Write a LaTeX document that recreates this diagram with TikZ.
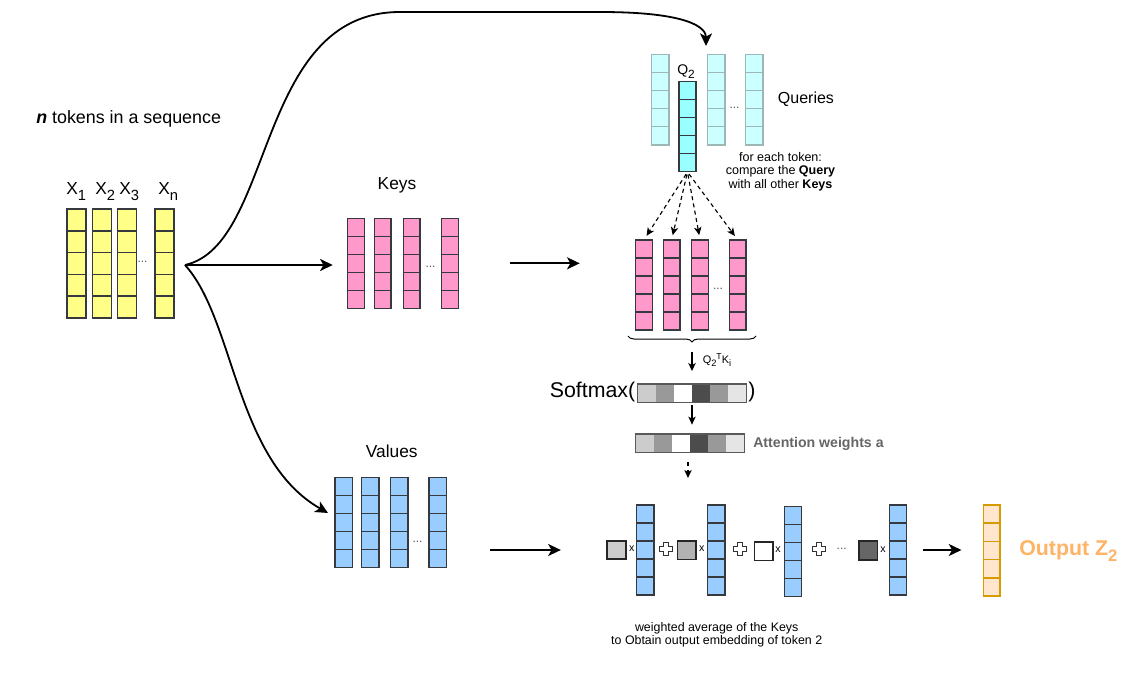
\documentclass[tikz,border=0pt]{standalone}
\usepackage{fontspec}
\setmainfont{Liberation Sans}
\usetikzlibrary{arrows.meta,decorations.pathreplacing,fit,calc}
\definecolor{cellstroke}{HTML}{36393D}
\definecolor{yel}{HTML}{FFFF88}
\definecolor{kpink}{HTML}{FF99CC}
\definecolor{vblue}{HTML}{99CCFF}
\definecolor{qlight}{HTML}{CCFFFF}
\definecolor{qlstroke}{HTML}{9DB6B6}
\definecolor{qdark}{HTML}{99FFFF}
\definecolor{outfill}{HTML}{FFE6CC}
\definecolor{outstroke}{HTML}{D79B00}
\definecolor{outtext}{HTML}{FFB366}
\definecolor{attn}{HTML}{666666}
\definecolor{dotc}{HTML}{555555}
\newcommand\dsub[1]{\raisebox{-0.32em}{\scalebox{0.85}{#1}}}
\newcommand\dsup[1]{\raisebox{0.38em}{\scalebox{0.8}{#1}}}
\newcommand\vcol[6]{%
  \path[#6, draw=none] (#2,#3) rectangle ++(#4,{5*#5});%
  \foreach \k in {0,...,4}{\path[#6, fill=none] (#2,{#3+\k*#5}) rectangle ++(#4,#5);}%
  \node[fit={(#2,#3) ({#2+#4},{#3+5*#5})}, inner sep=0pt] (#1) {};%
}
\newcommand\gbar[5]{%
  \foreach \c [count=\i from 0] in {black!20,black!40,white,black!70,black!40,black!10}{\fill[fill=\c] ({#2+\i*#4},#3) rectangle ++(#4,#5);}%
  \draw[draw=black!65, line width=0.9pt] (#2,#3) rectangle ++({6*#4},#5);%
  \node[fit={(#2,#3) ({#2+6*#4},{#3+#5})}, inner sep=0pt] (#1) {};%
}
\newcommand\plusmark[2]{%
  \draw[shift={(#1,#2)}, line width=0.75pt, draw=black!80, fill=white] (-6.5,-2.2) -- (-2.2,-2.2) -- (-2.2,-6.5) -- (2.2,-6.5) -- (2.2,-2.2) -- (6.5,-2.2) -- (6.5,2.2) -- (2.2,2.2) -- (2.2,6.5) -- (-2.2,6.5) -- (-2.2,2.2) -- (-6.5,2.2) -- cycle;%
}
\tikzset{
  ycell/.style={draw=cellstroke, fill=yel, line width=1.1pt},
  kcell/.style={draw=cellstroke, fill=kpink, line width=1.1pt},
  vcell/.style={draw=cellstroke, fill=vblue, line width=1.1pt},
  qlcell/.style={draw=qlstroke, fill=qlight, line width=1.1pt},
  qdcell/.style={draw=cellstroke, fill=qdark, line width=1.1pt},
  ocell/.style={draw=outstroke, fill=outfill, line width=1.1pt},
  wsq/.style={draw=black!85, line width=1.2pt, minimum size=13.9pt, inner sep=0pt},
  lbl/.style={inner sep=0pt, font=\fontsize{13}{15}\selectfont},
  dots/.style={inner sep=0pt, text=dotc, font=\fontsize{9}{10}\selectfont},
  times/.style={inner sep=0pt, font=\fontsize{8}{9}\selectfont},
  conn/.style={line width=1.35pt, -{Stealth[length=9.5pt,width=9pt,inset=2.5pt]}},
  smallarr/.style={line width=1pt, -{Stealth[length=6pt,width=5.5pt,inset=1.5pt]}},
  dasharr/.style={line width=0.85pt, dash pattern=on 3pt off 2.5pt, -{Stealth[length=6pt,width=5.5pt,inset=1.5pt]}},
}
\begin{document}
\begin{tikzpicture}[x=0.75pt,y=-0.75pt]
\useasboundingbox (0,0) rectangle (1134,681);
\fill[white] (0,0) rectangle (1134,681);

% ---- tokens
\node[inner sep=0pt, anchor=base west, font=\fontsize{13.4}{15}\selectfont] (title) at (36,124) {\textbf{\textit{n}} tokens in a sequence};
\vcol{x1}{67}{209}{19}{21.8}{ycell}
\vcol{x2}{92.3}{209}{19}{21.8}{ycell}
\vcol{x3}{117.3}{209}{19}{21.8}{ycell}
\vcol{xn}{155}{209}{19}{21.8}{ycell}
\node[lbl, anchor=base west] (lx1) at (66,195) {X\dsub{1}};
\node[lbl, anchor=base west] (lx2) at (95,195) {X\dsub{2}};
\node[lbl, anchor=base west] (lx3) at (119,195) {X\dsub{3}};
\node[lbl, anchor=base west] (lxn) at (158,195) {X\dsub{n}};
\node[dots] (xdots) at (142.5,262) {...};

% ---- keys
\node[lbl, anchor=base] (keyslbl) at (397,189) {Keys};
\vcol{k1}{347.7}{218.3}{16.7}{18}{kcell}
\vcol{k2}{374.3}{218.3}{16.7}{18}{kcell}
\vcol{k3}{403.3}{218.3}{16.7}{18}{kcell}
\vcol{k4}{441.7}{218.3}{16.7}{18}{kcell}
\node[dots] (kdots) at (430.5,267) {...};

% ---- values
\node[lbl, anchor=base] (valslbl) at (391.7,457) {Values};
\vcol{v1}{335}{477.7}{17.3}{18}{vcell}
\vcol{v2}{361.7}{477.7}{17.3}{18}{vcell}
\vcol{v3}{390.7}{477.7}{17.3}{18}{vcell}
\vcol{v4}{429}{477.7}{17.3}{18}{vcell}
\node[dots] (vdots) at (417.5,541.7) {...};

% ---- queries
\vcol{qa}{651.7}{54.3}{17.3}{18.1}{qlcell}
\vcol{qc}{707.7}{54.3}{17.3}{18.1}{qlcell}
\vcol{qd}{745.7}{54.3}{17.3}{18.1}{qlcell}
\vcol{q2}{679}{81.7}{17}{18}{qdcell}
\node[inner sep=0pt, anchor=base west, font=\fontsize{10.5}{12}\selectfont] (q2lbl) at (677,74.3) {Q\dsub{2}};
\node[dots] (qdots) at (734.5,108) {...};
\node[inner sep=0pt, anchor=base west, font=\fontsize{12}{14}\selectfont] (qlbl) at (777.7,104) {Queries};
\node[inner sep=0pt, align=center, font=\fontsize{9.4}{10.1}\selectfont] (cmp) at (780.5,171.5) {for each token:\\compare the \textbf{Query}\\with all other \textbf{Keys}};

% ---- keys (compared)
\vcol{k2a}{635.7}{240}{16.7}{18}{kcell}
\vcol{k2b}{663.3}{240}{16.7}{18}{kcell}
\vcol{k2c}{691.7}{240}{16.7}{18}{kcell}
\vcol{k2d}{729.3}{240}{16.7}{18}{kcell}
\node[dots] (k2dots) at (718,289) {...};
\foreach \t in {k2a,k2b,k2c,k2d}
  \draw[dasharr, shorten <=2pt, shorten >=3.5pt] (q2.south) -- (\t.north);

\coordinate (br1) at (628,336);
\coordinate (br2) at (756,336);
\draw[line width=0.75pt, decorate, decoration={brace, mirror, amplitude=4.5pt}] (br1) -- (br2);
\coordinate (brtip) at (692,342.5);
\node[inner sep=0pt, anchor=base west, font=\fontsize{8.2}{9}\selectfont] (qk) at (702.5,363.3) {Q\dsub{2}\dsup{T}K\dsub{i}};

% ---- softmax
\gbar{softbar}{637.3}{384}{18.23}{18.7}
\node[inner sep=0pt, anchor=base east, font=\fontsize{16}{18}\selectfont] (smx) at (635.5,397.5) {Softmax(};
\node[inner sep=0pt, anchor=base west, font=\fontsize{16}{18}\selectfont] (smxc) at (748,397.5) {)};
\draw[smallarr, shorten <=7pt, shorten >=9.5pt] (brtip) -- (brtip |- softbar.north);

\gbar{attbar}{635.7}{434}{18.1}{18.7}
\node[inner sep=0pt, anchor=base west, text=attn, font=\fontsize{10.6}{12}\bfseries] (attlbl) at (753,447.3) {Attention weights a};
\draw[smallarr, shorten <=1.7pt, shorten >=6.8pt] (softbar.south) -- (softbar.south |- attbar.north);
\coordinate (wtip) at (688,478);
\draw[dasharr, shorten <=7pt] (attbar.south -| wtip) -- (wtip);

% ---- weighted sum
\node[wsq, fill=black!20] (sq1) at (616.5,550) {};
\node[times] (t1) at (631.7,549) {x};
\vcol{b1}{636.7}{505}{17.3}{18}{vcell}
\plusmark{666}{549}
\node[wsq, fill=black!30] (sq2) at (686.6,550.3) {};
\node[times] (t2) at (701.7,549) {x};
\vcol{b2}{707.7}{505}{17.3}{18}{vcell}
\plusmark{740}{549}
\node[wsq, fill=white] (sq3) at (763.8,551.3) {};
\node[times] (t3) at (778,549.5) {x};
\vcol{b3}{784.3}{506.7}{17.3}{18}{vcell}
\plusmark{819}{549}
\node[dots] (bdots) at (841.7,549) {...};
\node[wsq, fill=black!60] (sq4) at (868.3,550.5) {};
\node[times] (t4) at (883,549.5) {x};
\vcol{b4}{889.3}{505}{17.3}{18}{vcell}
\node[inner sep=0pt, align=center, font=\fontsize{9.3}{10}\selectfont] (avg) at (716.7,634.5) {weighted average of the Keys\\to Obtain output embedding of token 2};

% ---- output
\vcol{out}{983.3}{505}{16.7}{18.2}{ocell}
\node[inner sep=0pt, anchor=base west, text=outtext, font=\fontsize{16}{18}\bfseries] (outlbl) at (1019,555) {Output Z\raisebox{-0.3em}{\scalebox{0.78}{2}}};

% ---- connectors
\coordinate (src) at (185,265);
\coordinate (qin) at (706,46);
\coordinate (vin) at (328,513);
\draw[conn] (src) .. controls (275,245) and (255,12) .. (400,12) -- (600,12) .. controls (690,12) and (706,28) .. (qin);
\draw[conn] (src) .. controls (235,320) and (235,460) .. (vin);
\draw[conn, shorten >=11pt] (src) -- (src -| k1.west);
\draw[conn, shorten <=38.2pt, shorten >=41.8pt] (k4.east) -- (k4.east -| k2a.west);
\draw[conn, shorten <=32.8pt, shorten >=34.2pt] (sq1.west -| v4.east) -- (sq1.west);
\draw[conn, shorten <=12pt, shorten >=16.2pt] (b4.east) -- (b4.east -| out.west);
\end{tikzpicture}
\end{document}
